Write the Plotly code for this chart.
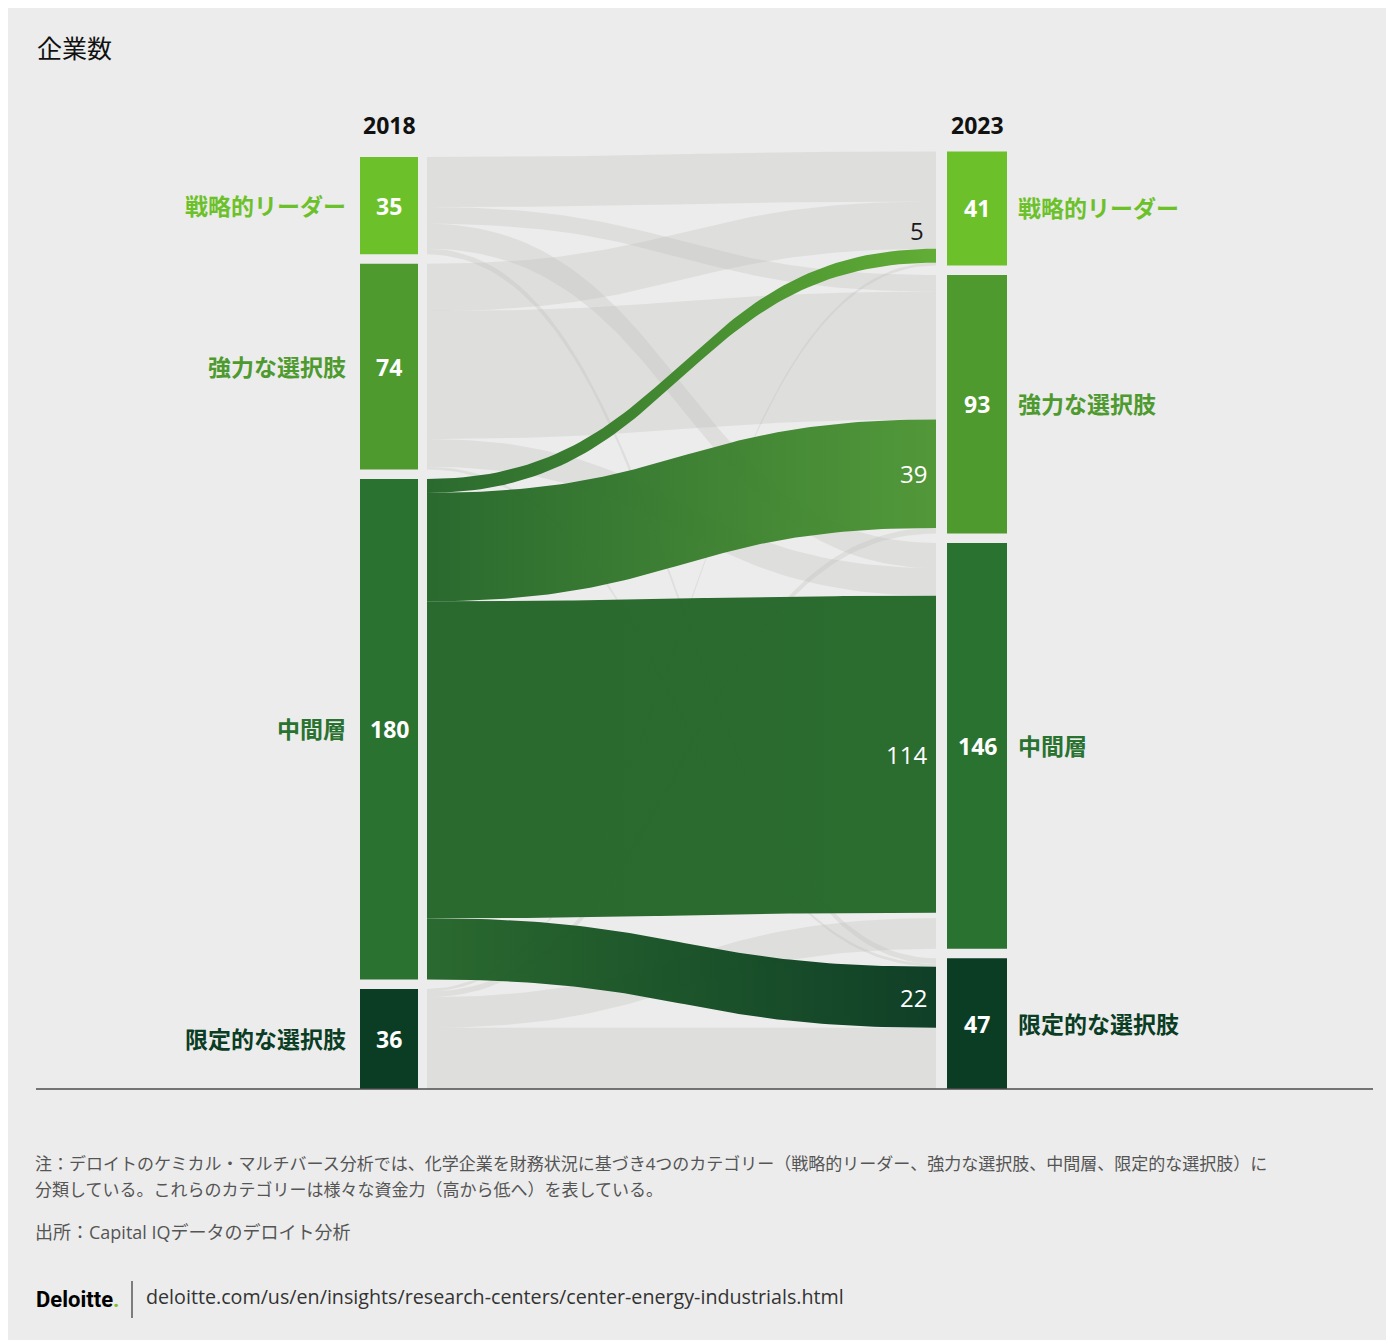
import numpy as np
import plotly.graph_objects as go

# ---------------- data ----------------
years = ["2018", "2023"]
categories = ["戦略的リーダー", "強力な選択肢", "中間層", "限定的な選択肢"]
counts_2018 = [35, 74, 180, 36]
counts_2023 = [41, 93, 146, 47]
# flows from each 2018 category to the 2023 categories (same order as categories)
flow_from_leaders = [18, 6, 9, 2]
flow_from_strong = [17, 46, 10, 1]
flow_from_middle = [5, 39, 114, 22]
flow_from_limited = [1, 2, 11, 22]
highlight_source = "中間層"

title_text = "企業数"
note_line1 = "注：デロイトのケミカル・マルチバース分析では、化学企業を財務状況に基づき4つのカテゴリー（戦略的リーダー、強力な選択肢、中間層、限定的な選択肢）に"
note_line2 = "分類している。これらのカテゴリーは様々な資金力（高から低へ）を表している。"
source_text = "出所：Capital IQデータのデロイト分析"
url_text = "deloitte.com/us/en/insights/research-centers/center-energy-industrials.html"

# ---------------- styles / layout ----------------
node_colors = ["#6cc12a", "#4e9a2f", "#2a7230", "#0a3d24"]
link_grad_start = "rgba(34,100,39,0.96)"
link_grad_end = ["rgba(90,170,44,0.95)", "rgba(74,148,48,0.95)", "rgba(37,104,41,0.97)", "rgba(9,58,33,0.97)"]
grey_link = "rgba(186,186,181,0.27)"
panel_color = "#ececec"
FONT = "Open Sans, Noto Sans CJK JP, sans-serif"

PAGE_OFF = 8            # page margin around the figure
FIG_W, FIG_H = 1394 - PAGE_OFF, 1340 - PAGE_OFF
BASE_PX = 1089          # page row of the baseline
K = 2.78                # pixels per company
GAP = 9.5 / K           # gap between nodes in company units
LEFT_X0, LEFT_X1 = 360, 418
RIGHT_X0, RIGHT_X1 = 947, 1007
LINK_X0, LINK_X1 = 427, 936

flows = [flow_from_leaders, flow_from_strong, flow_from_middle, flow_from_limited]


def stack(counts):
    y0 = [0.0] * len(counts)
    y1 = [0.0] * len(counts)
    y = 0.0
    for i in reversed(range(len(counts))):
        y0[i] = y
        y1[i] = y + counts[i]
        y = y1[i] + GAP
    return y0, y1


L0, L1 = stack(counts_2018)
R0, R1 = stack(counts_2023)

# link segments: outflows stacked by target order, inflows stacked by source order
tgt_pos = {}
for j in range(4):
    inflow = sum(flows[i][j] for i in range(4))
    spare = counts_2023[j] - inflow          # unfilled part of a target node
    cursor = R1[j]
    for i in range(4):
        v = flows[i][j]
        if i == 3:                            # last inflow sits at the node bottom
            cursor -= spare
        tgt_pos[(i, j)] = (cursor - v, cursor)
        cursor -= v
links = []
src_cursor = list(L1)
for i in range(4):
    for j in range(4):
        v = flows[i][j]
        s = (src_cursor[i] - v, src_cursor[i])
        src_cursor[i] -= v
        links.append((i, j, v, s, tgt_pos[(i, j)]))


def bez(a, b, t):
    xm = (LINK_X0 + LINK_X1) / 2
    x = (1 - t) ** 3 * LINK_X0 + 3 * (1 - t) ** 2 * t * xm + 3 * (1 - t) * t ** 2 * xm + t ** 3 * LINK_X1
    y = (1 - t) ** 3 * a + 3 * (1 - t) ** 2 * t * a + 3 * (1 - t) * t ** 2 * b + t ** 3 * b
    return x, y


t = np.linspace(0, 1, 80)

fig = go.Figure()

hi = categories.index(highlight_source)
grey_links = [l for l in links if l[0] != hi]
green_links = [l for l in links if l[0] == hi]

for (i, j, v, s, g) in grey_links + green_links:
    if v <= 0:
        continue
    xt, yt = bez(s[1], g[1], t)
    xb, yb = bez(s[0], g[0], t[::-1])
    xs = np.concatenate([xt, xb, xt[:1]])
    ys = np.concatenate([yt, yb, yt[:1]])
    kw = dict(x=xs, y=ys, mode="lines", fill="toself", line=dict(width=0, color="rgba(0,0,0,0)"),
              hoverinfo="skip", showlegend=False)
    if i == hi:
        kw["fillgradient"] = dict(type="horizontal", colorscale=[[0, link_grad_start], [1, link_grad_end[j]]],
                                  start=LINK_X0, stop=LINK_X1)
        kw["fillcolor"] = link_grad_end[j]
    else:
        kw["fillcolor"] = grey_link
    fig.add_trace(go.Scatter(**kw))

# nodes
fig.add_trace(go.Bar(x=[(LEFT_X0 + LEFT_X1) / 2] * 4, y=counts_2018, base=L0, width=LEFT_X1 - LEFT_X0,
                     marker=dict(color=node_colors, line=dict(width=0)), hoverinfo="skip", showlegend=False))
fig.add_trace(go.Bar(x=[(RIGHT_X0 + RIGHT_X1) / 2] * 4, y=counts_2023, base=R0, width=RIGHT_X1 - RIGHT_X0,
                     marker=dict(color=node_colors, line=dict(width=0)), hoverinfo="skip", showlegend=False))


def px(x):
    return (x - PAGE_OFF) / FIG_W


def py(y):
    return 1 - (y - PAGE_OFF) / FIG_H


ann = []
for idx, cat in enumerate(categories):
    lc = (L0[idx] + L1[idx]) / 2
    rc = (R0[idx] + R1[idx]) / 2
    ann.append(dict(x=(LEFT_X0 + LEFT_X1) / 2, y=lc, xref="x", yref="y", text=f"<b>{counts_2018[idx]}</b>",
                    xanchor="center", yanchor="middle",
                    showarrow=False, font=dict(family=FONT, size=23, color="white")))
    ann.append(dict(x=(RIGHT_X0 + RIGHT_X1) / 2, y=rc, xref="x", yref="y", text=f"<b>{counts_2023[idx]}</b>",
                    xanchor="center", yanchor="middle",
                    showarrow=False, font=dict(family=FONT, size=23, color="white")))
    ann.append(dict(x=LEFT_X0 - 12, y=lc, xref="x", yref="y", text=f"<b>{cat}</b>", xanchor="right",
                    yanchor="middle",
                    showarrow=False, font=dict(family=FONT, size=23, color=node_colors[idx])))
    ann.append(dict(x=RIGHT_X1 + 9, y=rc, xref="x", yref="y", text=f"<b>{cat}</b>", xanchor="left",
                    yanchor="middle",
                    showarrow=False, font=dict(family=FONT, size=23, color=node_colors[idx])))

# link value labels for highlighted source
for (i, j, v, s, g) in green_links:
    c = (g[0] + g[1]) / 2
    if j == 0:
        ann.append(dict(x=LINK_X1 - 10, y=g[1], xref="x", yref="y", text=str(v), xanchor="right",
                        yanchor="bottom", yshift=0, showarrow=False,
                        font=dict(family=FONT, size=24, color="#1a1a1a")))
    else:
        ann.append(dict(x=LINK_X1 - 7, y=c, xref="x", yref="y", text=str(v), xanchor="right",
                        yanchor="middle", showarrow=False, font=dict(family=FONT, size=24, color="white")))

for yr, xc in zip(years, [(LEFT_X0 + LEFT_X1) / 2, (RIGHT_X0 + RIGHT_X1) / 2]):
    ann.append(dict(x=xc, y=py(125), xref="x", yref="paper", text=f"<b>{yr}</b>", showarrow=False,
                    xanchor="center", yanchor="middle",
                    font=dict(family=FONT, size=23, color="#111")))

ann.append(dict(x=px(35), y=py(48), xref="paper", yref="paper", text=title_text, xanchor="left",
                yanchor="middle", showarrow=False, font=dict(family=FONT, size=25, color="#111")))
ann.append(dict(x=px(33), y=py(1163), xref="paper", yref="paper", text=note_line1, xanchor="left",
                yanchor="middle", showarrow=False, font=dict(family=FONT, size=17, color="#555")))
ann.append(dict(x=px(33), y=py(1189), xref="paper", yref="paper", text=note_line2, xanchor="left",
                yanchor="middle", showarrow=False, font=dict(family=FONT, size=17, color="#555")))
ann.append(dict(x=px(33), y=py(1232), xref="paper", yref="paper", text=source_text, xanchor="left",
                yanchor="middle", showarrow=False, font=dict(family=FONT, size=18, color="#555")))
ann.append(dict(x=px(34), y=py(1299), xref="paper", yref="paper",
                text='<b>Deloitte<span style="color:#86bc25">.</span></b>', xanchor="left",
                yanchor="middle", showarrow=False, font=dict(family="Roboto, sans-serif", size=22, color="#000")))
ann.append(dict(x=px(144), y=py(1296), xref="paper", yref="paper", text=url_text, xanchor="left",
                yanchor="middle", showarrow=False, font=dict(family=FONT, size=19.7, color="#333")))

shapes = [
    dict(type="line", xref="x", yref="y", x0=36, x1=1373, y0=0, y1=0,
         line=dict(color="#4d4d4d", width=1.5), layer="above"),
    dict(type="line", xref="paper", yref="paper", x0=px(132), x1=px(132), y0=py(1281), y1=py(1318),
         line=dict(color="#333", width=1.2)),
]

fig.update_layout(
    width=FIG_W, height=FIG_H,
    margin=dict(l=0, r=0, t=0, b=0),
    paper_bgcolor=panel_color, plot_bgcolor="rgba(0,0,0,0)",
    barmode="overlay",
    xaxis=dict(range=[PAGE_OFF, PAGE_OFF + FIG_W], visible=False, fixedrange=True),
    yaxis=dict(range=[(BASE_PX - PAGE_OFF - FIG_H) / K, (BASE_PX - PAGE_OFF) / K], visible=False,
               fixedrange=True),
    annotations=ann, shapes=shapes, showlegend=False,
)

fig.write_html("out.html")
